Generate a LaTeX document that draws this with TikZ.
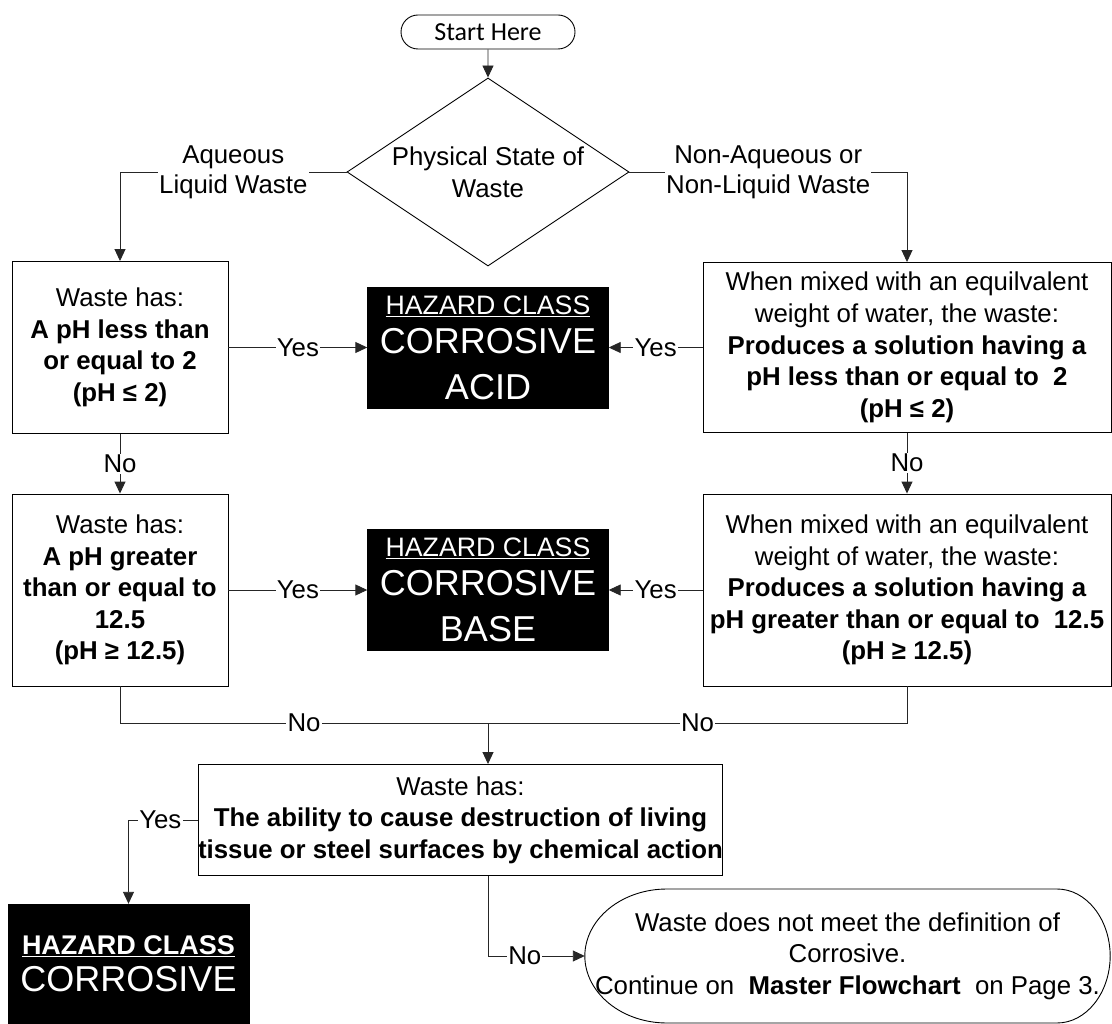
\documentclass[tikz,border=0pt]{standalone}
\usepackage{fontspec}
\setmainfont{Liberation Sans}
\newfontfamily\startfont{Carlito}
\usetikzlibrary{shapes.geometric,shapes.misc,arrows.meta,calc}
\tikzset{
  base/.style={font=\fontsize{25.8}{31.6}\selectfont, align=center, inner sep=0pt},
  wbox/.style={base, draw, line width=0.9pt, fill=white},
  hzbox/.style={draw, fill=black, text=white, align=center, inner sep=0pt,
    minimum width=241, minimum height=121, font=\fontsize{36}{40}\selectfont},
  lbl/.style={font=\fontsize{25.8}{30}\selectfont, fill=white, inner sep=1.2pt, align=center},
  conn/.style={line width=0.9pt, draw=black!85},
  arr/.style={conn, -{Triangle[length=12pt,width=11pt]}},
}
\begin{document}
\begin{tikzpicture}[x=1pt,y=-1pt]
\path[use as bounding box] (0,0) rectangle (1112,1024);

% nodes
\node[draw, rounded rectangle, line width=0.9pt, minimum width=174, minimum height=34,
      inner sep=0pt, font=\startfont\fontsize{26}{30}\selectfont] (start) at (488,32) {Start Here};

\node[diamond, draw, line width=0.9pt, minimum width=282, minimum height=188, inner sep=0pt,
      label={[base]center:Physical State of\\Waste}] (state) at (488,172) {};

\node[wbox, minimum width=216, minimum height=172] (L1) at (120,347.5)
  {Waste has:\\\textbf{A pH less than}\\\textbf{or equal to 2}\\\textbf{(pH \char"2264\ 2)}};

\node[wbox, minimum width=408, minimum height=170] (R1) at (907,347.5)
  {When mixed with an equilvalent\\weight of water, the waste:\\\textbf{Produces a solution having a}\\\textbf{pH less than or equal to\ \ 2}\\\textbf{(pH \char"2264\ 2)}};

\node[hzbox] (acid) at (488,347.5)
  {{\fontsize{26.7}{30}\selectfont\underline{HAZARD CLASS}}\\[-1pt]CORROSIVE\\[6pt]ACID};

\node[wbox, minimum width=216, minimum height=192] (L2) at (120,590)
  {Waste has:\\\textbf{A pH greater}\\\textbf{than or equal to}\\\textbf{12.5}\\\textbf{(pH \char"2265\ 12.5)}};

\node[wbox, minimum width=408, minimum height=192] (R2) at (907,590)
  {When mixed with an equilvalent\\weight of water, the waste:\\\textbf{Produces a solution having a}\\\textbf{pH greater than or equal to\ \ 12.5}\\\textbf{(pH \char"2265\ 12.5)}};

\node[hzbox] (basec) at (488,590)
  {{\fontsize{26.7}{30}\selectfont\underline{HAZARD CLASS}}\\[-1pt]CORROSIVE\\[6pt]BASE};

\node[wbox, minimum width=515, minimum height=111] (B) at (460.5,820)
  {Waste has:\\\textbf{The ability to cause destruction of living}\\\textbf{tissue or steel surfaces by chemical action}};

\node[hzbox, minimum height=120] (hazc) at (128.5,964)
  {{\fontsize{27}{30}\selectfont\textbf{\underline{HAZARD CLASS}}}\\[-3pt]CORROSIVE};

\node[base, minimum width=525, minimum height=134] (term) at (847.5,956)
  {Waste does not meet the definition of\\Corrosive.\\Continue on\ \ \textbf{Master Flowchart}\ \ on Page 3.};
\draw[line width=0.9pt]
  (667,889) -- (1057,889) .. controls (1086.3,889) and (1110,919) .. (term.east)
  .. controls (1110,993) and (1086.3,1023) .. (1057,1023) -- (667,1023)
  .. controls (621.7,1023) and (585,993) .. (term.west)
  .. controls (585,919) and (621.7,889) .. (667,889);

\coordinate (mj) at (488,723);

% connectors
\draw[arr] (start) -- (state);
\draw[arr] (state.west) -| node[lbl, pos=0.25] {Aqueous\\Liquid Waste} (L1.north);
\draw[arr] (state.east) -| node[lbl, pos=0.25] {Non-Aqueous or\\Non-Liquid Waste} (R1.north);

\draw[arr] (L1.east) -- node[lbl] {Yes} (acid.west);
\draw[arr] (R1.west) -- node[lbl] {Yes} (acid.east);
\draw[arr] (L1.south) -- node[lbl] {No} (L2.north);
\draw[arr] (R1.south) -- node[lbl] {No} (R2.north);
\draw[arr] (L2.east) -- node[lbl] {Yes} (basec.west);
\draw[arr] (R2.west) -- node[lbl] {Yes} (basec.east);

\draw[conn] (L2.south) |- node[lbl, pos=0.75] {No} (mj);
\draw[conn] (R2.south) |- node[lbl, pos=0.75] {No} (mj);
\draw[arr] (mj) -- (mj |- B.north);

\draw[arr] (B.west) -| node[lbl, pos=0.27] {Yes} (hazc.north);
\draw[arr] (mj |- B.south) |- node[lbl, pos=0.69] {No} (term.west);
\end{tikzpicture}
\end{document}
